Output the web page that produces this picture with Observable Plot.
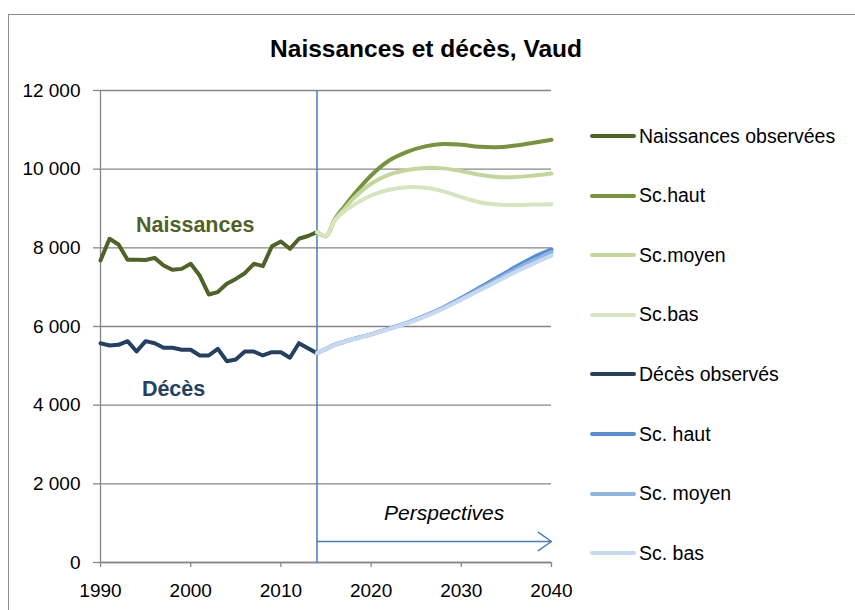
<!DOCTYPE html>
<html>
<head>
<meta charset="utf-8">
<script src="https://cdn.jsdelivr.net/npm/d3@7"></script>
<script src="https://cdn.jsdelivr.net/npm/@observablehq/plot@0.6"></script>
<style>
  html, body { margin: 0; padding: 0; background: #fff; overflow: hidden; }
  #wrap { position: relative; width: 855px; height: 610px; overflow: hidden; font-family: "Liberation Sans", Arial, sans-serif; }
  #frame { position: absolute; left: 8px; top: 14px; width: 900px; height: 700px; border: 1.5px solid #8c8c8c; box-sizing: border-box; }
  #chart { position: absolute; left: 0; top: 0; }
  #title { position: absolute; left: 226px; width: 400px; top: 35px; text-align: center; font-weight: bold; font-size: 24.5px; color: #000; white-space: nowrap; }
  #legend { position: absolute; left: 590px; top: 0; }
  .item { position: absolute; left: 0; display: flex; align-items: center; white-space: nowrap; font-size: 19.5px; color: #000; }
  .swatch { width: 46px; height: 4px; border-radius: 2px; margin-right: 3px; }
</style>
</head>
<body>
<div id="wrap">
  <div id="frame"></div>
  <div id="chart"></div>
  <div id="title">Naissances et décès, Vaud</div>
  <div id="legend"></div>
</div>
<script>
// ---------- data ----------
const obsYears = [1990,1991,1992,1993,1994,1995,1996,1997,1998,1999,2000,2001,2002,2003,2004,2005,2006,2007,2008,2009,2010,2011,2012,2013,2014];
const naissancesObs = [7680,8230,8085,7695,7695,7690,7745,7550,7440,7465,7595,7295,6815,6875,7085,7210,7355,7595,7535,8040,8160,7975,8230,8300,8400];
const decesObs = [5575,5517,5535,5627,5365,5627,5576,5459,5459,5408,5408,5263,5263,5433,5118,5161,5365,5365,5263,5347,5347,5205,5576,5449,5322];

const projYears = [2014,2015,2016,2017,2018,2020,2022,2024,2026,2028,2030,2032,2034,2036,2038,2040];
const naisHaut  = [8400,8300,8740,9040,9330,9840,10220,10440,10580,10640,10620,10570,10560,10600,10670,10750];
const naisMoyen = [8400,8300,8720,8980,9245,9630,9860,9980,10030,10020,9950,9860,9800,9800,9840,9890];
const naisBas   = [8400,8300,8700,8920,9080,9330,9475,9540,9525,9435,9290,9160,9100,9090,9100,9110];
const decHaut   = [5322,5430,5540,5610,5680,5800,5945,6095,6275,6485,6725,6985,7245,7510,7760,7960];
const decMoyen  = [5322,5430,5540,5610,5680,5800,5940,6090,6265,6470,6700,6950,7200,7450,7680,7890];
const decBas    = [5322,5430,5535,5605,5675,5795,5935,6080,6255,6455,6680,6915,7150,7385,7600,7800];

const seriesNames = ["Naissances observées","Sc.haut","Sc.moyen","Sc.bas","Décès observés","Sc. haut","Sc. moyen","Sc. bas"];
const seriesColors = ["#4f6228","#77933c","#c3d69b","#d7e4bd","#254061","#558ed5","#8eb4e3","#c6d9f1"];

const yTicks = [0,2000,4000,6000,8000,10000,12000];
const xTicks = [1990,2000,2010,2020,2030,2040];
const forecastStart = 2014;
const annotations = [
  {x: 2000.5, y: 8570, text: "Naissances", color: "#4f6228"},
  {x: 1998.1, y: 4420, text: "Décès", color: "#254061"}
];
const perspective = {x1: 2014, x2: 2040, y: 534, label: "Perspectives", labelX: 2028.1, labelY: 1250};

// ---------- build ----------
const toRows = (years, vals) => years.map((x, i) => ({x, y: vals[i]}));
const series = [
  {rows: toRows(obsYears, naissancesObs), smooth: false},
  {rows: toRows(projYears, naisHaut), smooth: true},
  {rows: toRows(projYears, naisMoyen), smooth: true},
  {rows: toRows(projYears, naisBas), smooth: true},
  {rows: toRows(obsYears, decesObs), smooth: false},
  {rows: toRows(projYears, decHaut), smooth: true},
  {rows: toRows(projYears, decMoyen), smooth: true},
  {rows: toRows(projYears, decBas), smooth: true}
];
const fmt = d => d3.format(",")(d).replace(/,/g, " ");

const lineMarks = series.map((s, i) => Plot.line(s.rows, {
  x: "x", y: "y", stroke: seriesColors[i], strokeWidth: 4,
  curve: s.smooth ? "catmull-rom" : "linear", strokeLinejoin: "round", strokeLinecap: "round"
}));

const chart = Plot.plot({
  width: 855, height: 610,
  marginLeft: 100, marginRight: 304, marginTop: 90, marginBottom: 48,
  style: {fontFamily: "'Liberation Sans', Arial, sans-serif", fontSize: "19px", color: "#000", background: "transparent"},
  x: {domain: [1990, 2040]},
  y: {domain: [0, 12000]},
  marks: [
    Plot.gridY(yTicks, {stroke: "#868686", strokeOpacity: 1, strokeWidth: 1.3}),
    Plot.axisY(yTicks, {tickFormat: fmt, tickSize: 7, tickPadding: 13, stroke: "#868686", strokeWidth: 1.3, label: null, fontSize: 19}),
    Plot.axisX(xTicks, {tickFormat: d => String(d), tickSize: 5, tickPadding: 16, stroke: "#868686", strokeWidth: 1.3, label: null, fontSize: 19}),
    Plot.ruleX([1990], {stroke: "#868686", strokeWidth: 1.3}),
    Plot.ruleY([0], {stroke: "#868686", strokeWidth: 1.3}),
    Plot.ruleX([forecastStart], {y1: 0, y2: 12000, stroke: "#4a7ebb", strokeWidth: 1.5}),
    ...lineMarks,
    Plot.arrow([perspective], {x1: "x1", x2: "x2", y1: "y", y2: "y", stroke: "#4a7ebb", strokeWidth: 1.5, headLength: 16, headAngle: 70}),
    Plot.text([perspective], {x: "labelX", y: "labelY", text: "label", fontStyle: "italic", fontSize: 21, fill: "#000"}),
    Plot.text(annotations, {x: "x", y: "y", text: "text", fill: "color", fontWeight: "bold", fontSize: 21.5})
  ]
});
document.getElementById("chart").appendChild(chart);

// legend
const legend = document.getElementById("legend");
seriesNames.forEach((name, i) => {
  const item = document.createElement("div");
  item.className = "item";
  item.style.top = (136 + i * 59.6 - 12) + "px";
  item.style.height = "24px";
  const sw = document.createElement("span");
  sw.className = "swatch";
  sw.style.background = seriesColors[i];
  const tx = document.createElement("span");
  tx.textContent = name;
  item.appendChild(sw); item.appendChild(tx);
  legend.appendChild(item);
});
</script>
</body>
</html>
